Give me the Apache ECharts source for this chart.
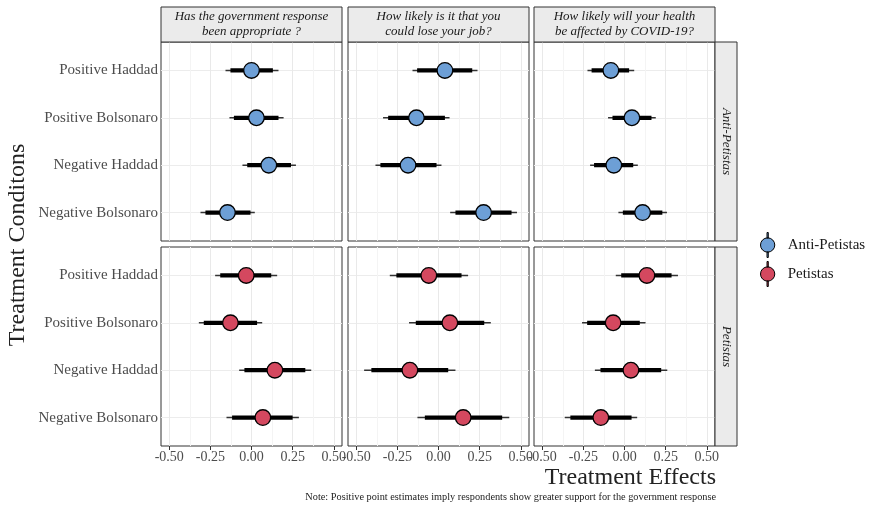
<!DOCTYPE html>
<html>
<head>
<meta charset="utf-8">
<script src="https://cdn.jsdelivr.net/npm/echarts@6/dist/echarts.min.js"></script>
<style>
  html, body { margin: 0; padding: 0; background: #fff; }
  #main { width: 873px; height: 510px; }
</style>
</head>
<body>
<div id="main"></div>
<script>
// top to bottom inside each panel
const categories = ['Positive Haddad', 'Positive Bolsonaro', 'Negative Haddad', 'Negative Bolsonaro']
const questions = [
  'Has the government response\nbeen appropriate ?',
  'How likely is it that you\ncould lose your job?',
  'How likely will your health\nbe affected by COVID-19?'
]
const groups = ['Anti-Petistas', 'Petistas']
const groupColors = ['#6d9fd6', '#d4485f']
const xTicks = [-0.5, -0.25, 0, 0.25, 0.5]
const xGrid = [-0.5, -0.375, -0.25, -0.125, 0, 0.125, 0.25, 0.375, 0.5]

// one row per question, values in category order
const antiEst = [
  [0.00, 0.03, 0.105, -0.146],
  [0.039, -0.134, -0.185, 0.274],
  [-0.083, 0.045, -0.065, 0.11]
]
const antiLo90 = [
  [-0.128, -0.107, -0.026, -0.28],
  [-0.13, -0.306, -0.353, 0.103],
  [-0.2, -0.073, -0.185, -0.01]
]
const antiHi90 = [
  [0.13, 0.164, 0.24, -0.006],
  [0.205, 0.039, -0.012, 0.444],
  [0.028, 0.164, 0.053, 0.23]
]
const antiLo95 = [
  [-0.158, -0.134, -0.055, -0.31],
  [-0.158, -0.337, -0.383, 0.071],
  [-0.225, -0.10, -0.209, -0.037]
]
const antiHi95 = [
  [0.164, 0.195, 0.27, 0.02],
  [0.237, 0.067, 0.018, 0.477],
  [0.059, 0.19, 0.081, 0.258]
]

const petEst = [
  [-0.032, -0.128, 0.142, 0.069],
  [-0.059, 0.069, -0.174, 0.15],
  [0.136, -0.069, 0.039, -0.144]
]
const petLo90 = [
  [-0.19, -0.29, -0.043, -0.118],
  [-0.256, -0.138, -0.408, -0.083],
  [-0.02, -0.227, -0.146, -0.329]
]
const petHi90 = [
  [0.12, 0.034, 0.327, 0.25],
  [0.14, 0.278, 0.059, 0.387],
  [0.286, 0.093, 0.223, 0.043]
]
const petLo95 = [
  [-0.221, -0.32, -0.075, -0.152],
  [-0.296, -0.179, -0.452, -0.128],
  [-0.053, -0.258, -0.18, -0.363]
]
const petHi95 = [
  [0.156, 0.065, 0.363, 0.288],
  [0.18, 0.318, 0.103, 0.43],
  [0.325, 0.128, 0.26, 0.077]
]

const groupData = [
  [antiEst, antiLo90, antiHi90, antiLo95, antiHi95],
  [petEst, petLo90, petHi90, petLo95, petHi95]
]

const serif = 'Liberation Serif'
const colLeft = [161, 348, 534]
const rowTop = [42, 247]
const panelW = 181
const panelH = 199
const yVals = categories.map((c, i) => categories.length - i)

const renderItem = (params, api) => {
  const y = api.value(0)
  const c = api.coord([api.value(1), y])
  const a = api.coord([api.value(4), y])
  const b = api.coord([api.value(5), y])
  const a2 = api.coord([api.value(2), y])
  const b2 = api.coord([api.value(3), y])
  return {
    type: 'group',
    children: [
      { type: 'line', shape: { x1: a[0], y1: a[1], x2: b[0], y2: b[1] }, style: { stroke: '#333', lineWidth: 1.5 } },
      { type: 'line', shape: { x1: a2[0], y1: a2[1], x2: b2[0], y2: b2[1] }, style: { stroke: '#000', lineWidth: 4.2 } },
      { type: 'circle', shape: { cx: c[0], cy: c[1], r: 7.8 }, style: { fill: api.visual('color'), stroke: '#000', lineWidth: 1.3 } }
    ]
  }
}

const grids = []
const xAxes = []
const yAxes = []
const series = []

groups.forEach((g, r) => {
  const [est, lo90, hi90, lo95, hi95] = groupData[r]
  questions.forEach((q, c) => {
    const i = grids.length
    grids.push({
      left: colLeft[c], top: rowTop[r], width: panelW, height: panelH,
      show: true, backgroundColor: '#fff', borderColor: '#333', borderWidth: 1,
      containLabel: false, outerBoundsMode: 'none'
    })
    xAxes.push({
      type: 'value', gridIndex: i, min: -0.55, max: 0.55,
      axisLine: { show: false },
      axisTick: { show: r === 1, customValues: r === 1 ? xTicks : xGrid, length: 4, lineStyle: { color: '#333' } },
      axisLabel: {
        show: r === 1, customValues: xTicks, margin: 4,
        color: '#4d4d4d', fontFamily: serif, fontSize: 14,
        formatter: v => v.toFixed(2)
      },
      splitLine: { show: r === 0, lineStyle: { color: ['#e9e9e9', '#f4f4f4'], width: 1 } }
    })
    // bottom row: separate axis just for the vertical grid lines
    if (r === 1) {
      xAxes.push({
        type: 'value', gridIndex: i, min: -0.55, max: 0.55, position: 'top', show: true,
        axisLine: { show: false },
        axisTick: { show: false, customValues: xGrid },
        axisLabel: { show: false },
        splitLine: { show: true, lineStyle: { color: ['#e9e9e9', '#f4f4f4'], width: 1 } }
      })
    }
    yAxes.push({
      type: 'value', gridIndex: i, min: 0.4, max: 4.6,
      axisLine: { show: false },
      axisTick: { show: c === 0, customValues: yVals, length: 4, lineStyle: { color: '#333' } },
      axisLabel: {
        show: c === 0, customValues: yVals, margin: 3,
        color: '#4d4d4d', fontFamily: serif, fontSize: 15,
        formatter: v => categories[categories.length - v]
      },
      splitLine: { show: true, lineStyle: { color: '#ececec', width: 1 } }
    })
    series.push({
      name: g,
      type: 'custom',
      xAxisIndex: xAxes.length - (r === 1 ? 2 : 1),
      yAxisIndex: i,
      itemStyle: { color: groupColors[r] },
      renderItem: renderItem,
      encode: { x: [1, 2, 3, 4, 5], y: 0 },
      data: categories.map((cat, k) => [yVals[k], est[c][k], lo90[c][k], hi90[c][k], lo95[c][k], hi95[c][k]]),
      z: 5
    })
  })
})

const legendIcon = 'path://M9.3,0H10.7V6.2H9.3Z M2,14A8,8 0 1,0 18,14A8,8 0 1,0 2,14Z M9.3,21.8H10.7V28H9.3Z'

const graphics = []
questions.forEach((q, c) => {
  graphics.push({
    type: 'rect', shape: { x: colLeft[c], y: 7, width: panelW, height: 35 },
    style: { fill: '#ebebeb', stroke: '#333', lineWidth: 1 }, z: 10
  })
  graphics.push({
    type: 'text', x: colLeft[c] + panelW / 2, y: 24.5, z: 11,
    style: {
      text: q, fill: '#1a1a1a', font: 'italic 13px "' + serif + '"',
      align: 'center', verticalAlign: 'middle', lineHeight: 15
    }
  })
})
groups.forEach((g, r) => {
  graphics.push({
    type: 'rect', shape: { x: 715, y: rowTop[r], width: 22, height: panelH },
    style: { fill: '#ebebeb', stroke: '#333', lineWidth: 1 }, z: 10
  })
  graphics.push({
    type: 'text', x: 726, y: rowTop[r] + panelH / 2, rotation: -Math.PI / 2, z: 11,
    style: {
      text: g, fill: '#1a1a1a', font: 'italic 13px "' + serif + '"',
      align: 'center', verticalAlign: 'middle'
    }
  })
})
graphics.push({
  type: 'text', x: 18, y: 245, rotation: Math.PI / 2,
  style: { text: 'Treatment Conditons', fill: '#222', font: '24px "' + serif + '"', align: 'center', verticalAlign: 'middle' }
})
graphics.push({
  type: 'text', x: 716, y: 478,
  style: { text: 'Treatment Effects', fill: '#222', font: '24px "' + serif + '"', align: 'right', verticalAlign: 'middle' }
})
graphics.push({
  type: 'text', x: 716, y: 497,
  style: {
    text: 'Note: Positive point estimates imply respondents show greater support for the government response',
    fill: '#222', font: '10.3px "' + serif + '"', align: 'right', verticalAlign: 'middle'
  }
})

const chart = echarts.init(document.getElementById('main'), null, { renderer: 'canvas' })
chart.setOption({
  animation: false,
  backgroundColor: '#fff',
  grid: grids,
  xAxis: xAxes,
  yAxis: yAxes,
  series: series,
  legend: {
    orient: 'vertical', left: 755, top: 227,
    itemWidth: 30, itemHeight: 25, itemGap: 3,
    textStyle: { fontFamily: serif, fontSize: 15, color: '#1a1a1a' },
    data: groups.map((g, r) => ({
      name: g, icon: legendIcon,
      itemStyle: { color: groupColors[r], borderColor: '#000', borderWidth: 1 }
    }))
  },
  graphic: graphics
})
</script>
</body>
</html>
